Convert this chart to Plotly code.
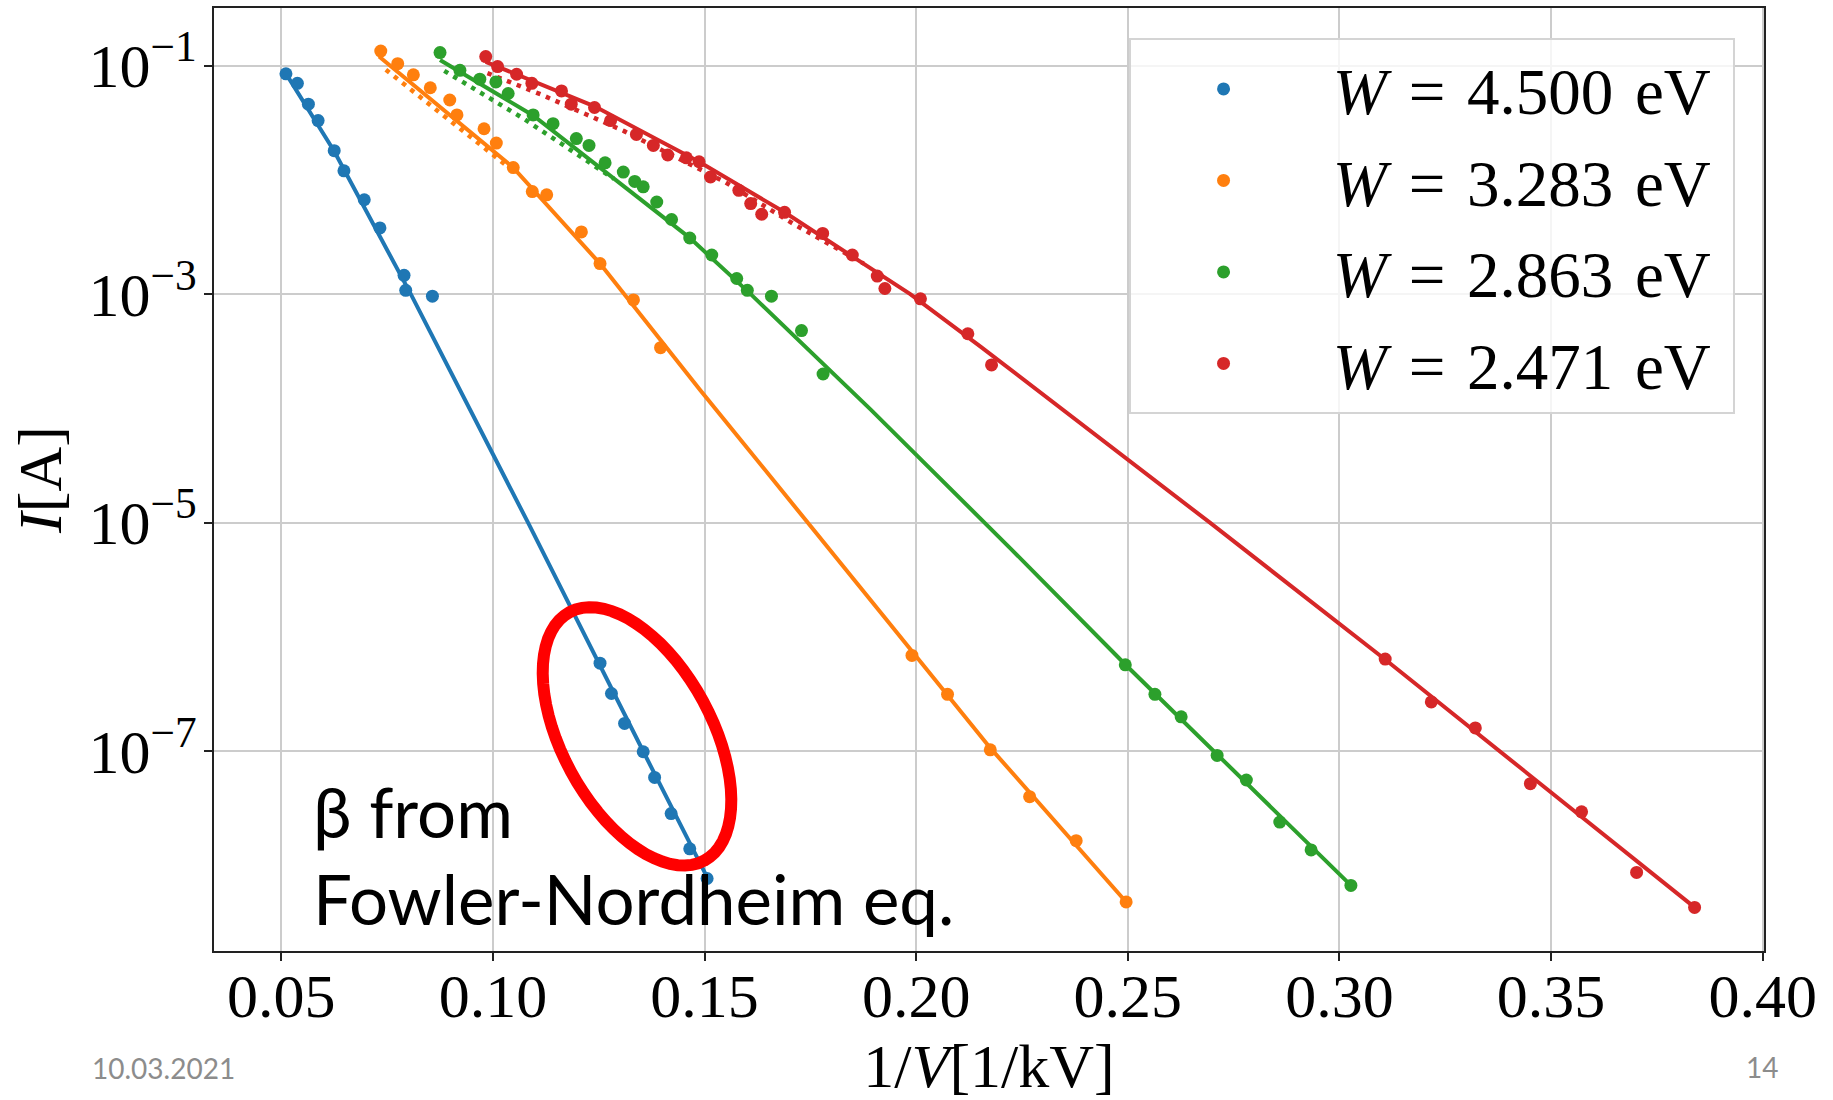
import numpy as np
import plotly.graph_objects as go

# Measured points: x = 1/V [1/kV], y = I [A]
blue_x = [0.0511, 0.0538, 0.0564, 0.0587, 0.0625, 0.0648, 0.0696, 0.0733, 0.0790, 0.0794,
          0.0857, 0.1253, 0.1280, 0.1311, 0.1355, 0.1382, 0.1421, 0.1465, 0.1506]
blue_i = [8.47e-2, 7.0e-2, 4.6e-2, 3.3e-2, 1.8e-2, 1.2e-2, 6.7e-3, 3.8e-3, 1.46e-3, 1.08e-3,
          9.6e-4, 5.9e-7, 3.2e-7, 1.75e-7, 9.9e-8, 5.9e-8, 2.85e-8, 1.40e-8, 7.7e-9]

orange_x = [0.0735, 0.0775, 0.0812, 0.0852, 0.0898, 0.0915, 0.0979, 0.1008, 0.1048, 0.1093,
            0.1127, 0.1209, 0.1253, 0.1332, 0.1396, 0.1990, 0.2074, 0.2175, 0.2268, 0.2378,
            0.2496]
orange_i = [1.34e-1, 1.04e-1, 8.3e-2, 6.4e-2, 5.0e-2, 3.7e-2, 2.8e-2, 2.1e-2, 1.28e-2, 7.9e-3,
            7.4e-3, 3.5e-3, 1.85e-3, 8.9e-4, 3.4e-4, 6.9e-7, 3.15e-7, 1.03e-7, 4.0e-8, 1.65e-8,
            4.8e-9]

green_x = [0.0875, 0.0922, 0.0969, 0.1007, 0.1036, 0.1095, 0.1142, 0.1197, 0.1227, 0.1265,
           0.1308, 0.1335, 0.1355, 0.1387, 0.1422, 0.1465, 0.1517, 0.1576, 0.1601, 0.1658,
           0.1729, 0.1780, 0.2494, 0.2564, 0.2626, 0.2711, 0.2780, 0.2859, 0.2933, 0.3027]
green_i = [1.30e-1, 9.1e-2, 7.6e-2, 7.2e-2, 5.7e-2, 3.7e-2, 3.1e-2, 2.3e-2, 2.0e-2, 1.41e-2,
           1.17e-2, 9.7e-3, 8.7e-3, 6.4e-3, 4.5e-3, 3.1e-3, 2.2e-3, 1.37e-3, 1.08e-3, 9.6e-4,
           4.8e-4, 2.0e-4, 5.7e-7, 3.15e-7, 2.0e-7, 9.2e-8, 5.6e-8, 2.4e-8, 1.37e-8, 6.7e-9]

red_x = [0.0983, 0.1011, 0.1056, 0.1092, 0.1162, 0.1185, 0.1240, 0.1278, 0.1339, 0.1379,
         0.1413, 0.1457, 0.1487, 0.1514, 0.1581, 0.1609, 0.1635, 0.1689, 0.1779, 0.1849,
         0.1908, 0.1926, 0.2010, 0.2122, 0.2178, 0.3108, 0.3217, 0.3321, 0.3451, 0.3572,
         0.3702, 0.3839]
red_i = [1.20e-1, 9.8e-2, 8.4e-2, 7.0e-2, 6.0e-2, 4.6e-2, 4.3e-2, 3.3e-2, 2.5e-2, 2.0e-2,
         1.65e-2, 1.56e-2, 1.44e-2, 1.06e-2, 8.1e-3, 6.2e-3, 5.0e-3, 5.2e-3, 3.4e-3, 2.2e-3,
         1.44e-3, 1.12e-3, 9.1e-4, 4.5e-4, 2.4e-4, 6.4e-7, 2.7e-7, 1.60e-7, 5.2e-8, 2.95e-8,
         8.7e-9, 4.3e-9]

# Fowler-Nordheim fits (solid)
blue_fit_x = [0.0511, 0.0625, 0.0806, 0.1083, 0.1355, 0.1506]
blue_fit_i = [8.5e-2, 1.78e-2, 1.0e-3, 1.0e-5, 1.0e-7, 7.9e-9]
orange_fit_x = [0.0731, 0.0915, 0.1048, 0.1253, 0.1489, 0.1927, 0.2175, 0.2496]
orange_fit_i = [1.20e-1, 3.3e-2, 1.28e-2, 1.85e-3, 1.46e-4, 1.46e-6, 1.07e-7, 4.8e-9]
green_fit_x = [0.0875, 0.1095, 0.1465, 0.1609, 0.1892, 0.2223, 0.2494, 0.3027]
green_fit_i = [1.12e-1, 3.66e-2, 3.11e-3, 1.0e-3, 9.8e-5, 5.94e-6, 5.74e-7, 6.7e-9]
red_fit_x = [0.0983, 0.1240, 0.1487, 0.1689, 0.1986, 0.2152, 0.2694, 0.3108, 0.3831]
red_fit_i = [1.08e-1, 4.4e-2, 1.44e-2, 5.2e-3, 1.0e-3, 3.48e-4, 1.0e-5, 6.35e-7, 4.55e-9]

# second model (dotted), only visible at high currents
orange_dot_x = [0.0747, 0.0875, 0.1058]
orange_dot_i = [9.2e-2, 3.9e-2, 1.12e-2]
green_dot_x = [0.0885, 0.1070, 0.1286]
green_dot_i = [9.0e-2, 3.48e-2, 1.02e-2]
red_dot_x = [0.0987, 0.1113, 0.1310, 0.1550, 0.1711, 0.1876]
red_dot_i = [8.6e-2, 5.6e-2, 2.67e-2, 9.5e-3, 4.1e-3, 1.85e-3]

labels = ['4.500', '3.283', '2.863', '2.471']
colors = ['#1f77b4', '#ff7f0e', '#2ca02c', '#d62728']

x_ticks = [0.05, 0.10, 0.15, 0.20, 0.25, 0.30, 0.35, 0.40]
y_exponents = [-1, -3, -5, -7]

SERIF = 'Liberation Serif'
SANS = 'Lato'

points = [(blue_x, blue_i), (orange_x, orange_i), (green_x, green_i), (red_x, red_i)]
fits = [(blue_fit_x, blue_fit_i), (orange_fit_x, orange_fit_i),
        (green_fit_x, green_fit_i), (red_fit_x, red_fit_i)]
dots = [None, (orange_dot_x, orange_dot_i), (green_dot_x, green_dot_i), (red_dot_x, red_dot_i)]

fig = go.Figure()

# lines first so the markers sit on top
for k in range(4):
    fx, fi = fits[k]
    fig.add_trace(go.Scatter(x=fx, y=fi, mode='lines', showlegend=False, hoverinfo='skip',
                             line=dict(color=colors[k], width=4)))
    if dots[k] is not None:
        dx, di = dots[k]
        fig.add_trace(go.Scatter(x=dx, y=di, mode='lines', showlegend=False, hoverinfo='skip',
                                 line=dict(color=colors[k], width=4.5, dash='4.5px,6px')))

SP = '\u2004'  # slightly wider space, like the TeX spacing around "="
for k in range(4):
    px_, pi_ = points[k]
    fig.add_trace(go.Scatter(
        x=px_, y=pi_, mode='markers',
        name='\u00a0<i>W</i>' + SP + '=' + SP + labels[k] + SP + 'eV\u00a0',
        legendgroup='g%d' % k,
        marker=dict(color=colors[k], size=13),
    ))

# plot area in pixels (figure 1833 x 1100)
W, H = 1833, 1100
L, R, T, B = 214, 69, 6, 145

fig.update_layout(
    width=W, height=H,
    margin=dict(l=L, r=R, t=T, b=B),
    paper_bgcolor='white', plot_bgcolor='white',
    font=dict(family=SERIF, size=60, color='black'),
    legend=dict(
        x=0.981, y=0.968, xanchor='right', yanchor='top',
        bgcolor='rgba(255,255,255,0.8)', bordercolor='#d4d4d4', borderwidth=2,
        font=dict(family=SERIF, size=65, color='black'),
        itemwidth=176, tracegroupgap=4,
    ),
)

fig.update_xaxes(
    range=[0.0341, 0.4003],
    tickvals=x_ticks, ticktext=['%.2f' % v for v in x_ticks],
    showgrid=True, gridcolor='#cccccc', gridwidth=1.5,
    showline=True, linecolor='#222222', linewidth=1.8, mirror=True,
    ticks='outside', ticklen=8, tickwidth=1.5, tickcolor='#222222',
    tickfont=dict(family=SERIF, size=62), ticklabelstandoff=-18,
    zeroline=False,
    title=dict(text='1/<i>V</i>[1/kV]', font=dict(family=SERIF, size=62), standoff=20),
)

fig.update_yaxes(
    type='log', range=[-8.748, -0.496],
    tickvals=[10.0 ** e for e in y_exponents],
    ticktext=['10<sup>\u2212%d</sup>' % (-e) for e in y_exponents],
    showgrid=True, gridcolor='#cccccc', gridwidth=1.5,
    showline=True, linecolor='#222222', linewidth=1.8, mirror=True,
    ticks='outside', ticklen=8, tickwidth=1.5, tickcolor='#222222',
    tickfont=dict(family=SERIF, size=62), ticklabelstandoff=-5,
    zeroline=False,
    title=dict(text='<i>I</i>[A]', font=dict(family=SERIF, size=62), standoff=7),
)

# slide annotations
pw, ph = W - L - R, H - T - B


def to_paper(px, py):
    return (px - L) / pw, (H - B - py) / ph


ax, ay = to_paper(311, 815)
fig.add_annotation(text='\u03b2 from', x=ax, y=ay, xref='paper', yref='paper',
                   xanchor='left', yanchor='middle', showarrow=False,
                   font=dict(family=SANS, size=69, color='black'))
ax, ay = to_paper(311, 902)
fig.add_annotation(text='Fowler-Nordheim eq.', x=ax, y=ay, xref='paper', yref='paper',
                   xanchor='left', yanchor='middle', showarrow=False,
                   font=dict(family=SANS, size=69, color='black'))
ax, ay = to_paper(90, 1073)
fig.add_annotation(text='10.03.2021', x=ax, y=ay, xref='paper', yref='paper',
                   xanchor='left', yanchor='middle', showarrow=False,
                   font=dict(family=SANS, size=28, color='#8c8c8c'))
ax, ay = to_paper(1762, 1072)
fig.add_annotation(text='14', x=ax, y=ay, xref='paper', yref='paper',
                   xanchor='center', yanchor='middle', showarrow=False,
                   font=dict(family=SANS, size=28, color='#8c8c8c'))

# red highlight ellipse around the low-current blue points
cx, cy, a, b, ang = 637, 739, 142, 75, np.radians(61.7)
t = np.linspace(0, 2 * np.pi, 73)
ex = cx + a * np.cos(t) * np.cos(ang) - b * np.sin(t) * np.sin(ang)
ey = cy + a * np.cos(t) * np.sin(ang) + b * np.sin(t) * np.cos(ang)
path = ''
for j in range(len(t)):
    u, v = to_paper(ex[j], ey[j])
    path += ('M' if j == 0 else 'L') + '%.5f,%.5f ' % (u, v)
path += 'Z'
fig.add_shape(type='path', path=path, xref='paper', yref='paper',
              line=dict(color='#ff0000', width=12))

# drop the default 8px page margin so the figure sits at the window origin
fig.write_html('out.html', config={'displayModeBar': False},
               post_script="document.body.style.margin='0px';")
